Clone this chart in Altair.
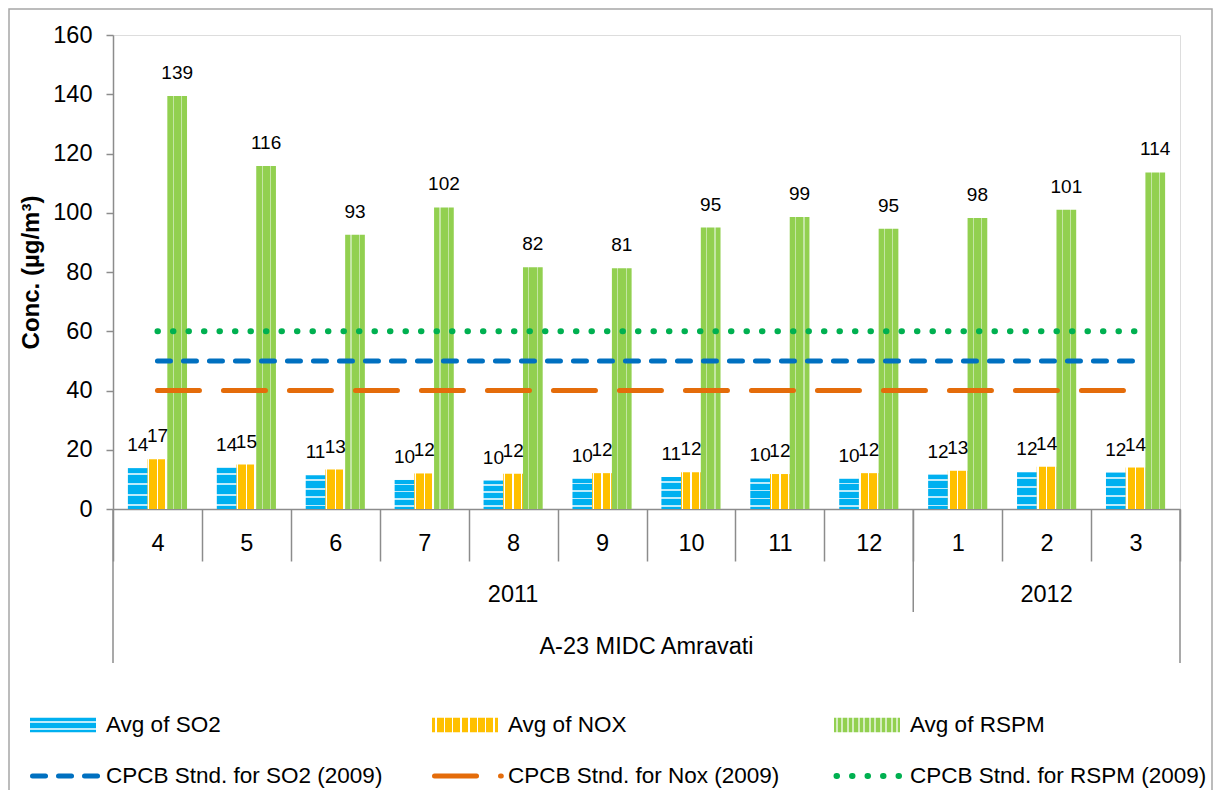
import altair as alt
import pandas as pd

# ---------------- data ----------------
months = ["4", "5", "6", "7", "8", "9", "10", "11", "12", "1", "2", "3"]
years = ["2011", "2012"]
year_anchor = ["8", "2"]          # middle month of each year group
site_name = ["A-23 MIDC Amravati"]
series = ["SO2", "NOX", "RSPM"]
bar_names = ["Avg of SO2", "Avg of NOX", "Avg of RSPM"]
so2 = [13.8, 13.9, 11.4, 9.8, 9.6, 10.2, 10.8, 10.3, 10.2, 11.6, 12.4, 12.3]
nox = [16.8, 15.0, 13.3, 12.0, 11.9, 12.1, 12.4, 11.8, 12.1, 12.9, 14.3, 14.0]
rspm = [139.4, 115.8, 92.6, 101.8, 81.6, 81.3, 95.0, 98.6, 94.6, 98.2, 101.0, 113.6]
std_names = ["CPCB Stnd. for SO2 (2009)", "CPCB Stnd. for Nox (2009)",
             "CPCB Stnd. for RSPM (2009)"]
std_values = [50, 40, 60]
y_ticks = [0, 20, 40, 60, 80, 100, 120, 140, 160]

# ---------------- styles ----------------
FONT = "Liberation Sans"
GRAY = "#8C8C8C"
BLUE_BAR = "#00B0F0"
ORANGE_BAR = "#FFC000"
GREEN_BAR = "#92D050"
LINE_COLORS = ["#0070C0", "#E46C0A", "#00B050"]
LINE_DASH = [[13, 13], [42, 24], [0.5, 15]]
LINE_WIDTH = [5, 5, 6]


def stripes(base, line, centers, hw, vertical=True):
    stops = [{"offset": 0, "color": base}]
    for c in centers:
        a = max(0.0, c - hw)
        b = min(1.0, c + hw)
        stops += [{"offset": a, "color": base}, {"offset": a, "color": line},
                  {"offset": b, "color": line}, {"offset": b, "color": base}]
    stops.append({"offset": 1, "color": base})
    if vertical:
        return {"gradient": "linear", "x1": 0, "y1": 0, "x2": 1, "y2": 0, "stops": stops}
    return {"gradient": "linear", "x1": 0, "y1": 0, "x2": 0, "y2": 1, "stops": stops}


bar_fill = {
    "SO2": stripes(BLUE_BAR, "#BDEBFB", [0.15, 0.4, 0.65, 0.9], 0.025, vertical=False),
    "NOX": stripes(ORANGE_BAR, "#FFFFFF", [0.06, 0.5, 0.94], 0.035),
    "RSPM": stripes(GREEN_BAR, "#C4E6A4", [0.3, 0.72], 0.03),
}
leg_fill = {
    "SO2": stripes(BLUE_BAR, "#BDEBFB", [0.3, 0.75], 0.06, vertical=False),
    "NOX": stripes(ORANGE_BAR, "#FFFFFF", [(i + 0.5) / 8 for i in range(8)], 0.013),
    "RSPM": stripes(GREEN_BAR, "#D4EDBE", [(i + 0.5) / 12 for i in range(12)], 0.012),
}

# ---------------- tables ----------------
bars_df = pd.DataFrame({
    "month": months * 3,
    "series": [s for s in series for _ in months],
    "value": so2 + nox + rspm,
})
std_df = pd.DataFrame({
    "month": months * 3,
    "name": [n for n in std_names for _ in months],
    "value": [v for v in std_values for _ in months],
})
year_df = pd.DataFrame({"year": years, "month": year_anchor})
site_df = pd.DataFrame({"site": site_name, "month": ["9"]})
leg_df = pd.DataFrame({
    "label": bar_names + std_names,
    "key": series + series,
    "col": [0, 1, 2, 0, 1, 2],
    "row": [0, 0, 0, 1, 1, 1],
})

W, H = 1067, 474

xscale = alt.Scale(domain=months, paddingInner=0, paddingOuter=0)
xaxis = alt.Axis(title=None, grid=False, domainColor=GRAY, domainWidth=1.5,
                 tickColor=GRAY, tickWidth=1.5, tickSize=52, tickBand="extent",
                 tickExtra=True, labelAngle=0, labelFont=FONT, labelFontSize=23.5,
                 labelColor="black", labelBaseline="middle", labelPadding=-18)
yscale = alt.Scale(domain=[0, 160], nice=False)
yaxis = alt.Axis(values=y_ticks, title="Conc. (µg/m³)", grid=False,
                 domainColor=GRAY, domainWidth=1.5, tickColor=GRAY, tickWidth=1.5,
                 tickSize=7, labelFont=FONT, labelFontSize=23.5, labelColor="black",
                 labelPadding=14, titleFont=FONT, titleFontSize=24,
                 titleFontWeight="bold", titleColor="black", titleX=-82,
                 titleY=H / 2, titleAngle=270, titleAlign="center",
                 titleBaseline="middle")


def xenc(bp=None):
    if bp is None:
        return alt.X("month:N", scale=xscale, axis=xaxis)
    return alt.X("month:N", scale=xscale, axis=xaxis, bandPosition=bp)


X = xenc()
XO = alt.XOffset("series:N", scale=alt.Scale(domain=series, paddingOuter=0.755,
                                              paddingInner=0))
Y = alt.Y("value:Q", scale=yscale, axis=yaxis)

main_layers = []
for s in series:
    main_layers.append(
        alt.Chart(bars_df).transform_filter(f"datum.series == '{s}'")
        .mark_bar(fill=bar_fill[s])
        .encode(x=X, xOffset=XO, y=Y)
    )
for n, c, d, w in zip(std_names, LINE_COLORS, LINE_DASH, LINE_WIDTH):
    main_layers.append(
        alt.Chart(std_df).transform_filter(f"datum.name == '{n}'")
        .mark_line(stroke=c, strokeWidth=w, strokeDash=d, strokeCap="round")
        .encode(x=X, y=Y)
    )
main_layers.append(
    alt.Chart(bars_df).mark_text(baseline="alphabetic", dy=-17, font=FONT,
                                 fontSize=19, color="black")
    .encode(x=X, xOffset=XO, y=Y, text=alt.Text("value:Q", format=".0f"))
)
# multi-level category axis
main_layers.append(
    alt.Chart(year_df).mark_text(font=FONT, fontSize=23.5, baseline="middle",
                                 color="black")
    .encode(x=X, y=alt.value(560), text="year:N")
)
main_layers.append(
    alt.Chart(site_df).mark_text(font=FONT, fontSize=23.5, baseline="middle",
                                 color="black")
    .encode(x=xenc(1), y=alt.value(612), text="site:N")
)
sep_specs = [("4", 0, 628), ("3", 1, 628), ("1", 0, 577)]
for m, bp, bottom in sep_specs:
    main_layers.append(
        alt.Chart(pd.DataFrame({"month": [m]}))
        .mark_rule(color=GRAY, strokeWidth=1.5)
        .encode(x=xenc(bp), y=alt.value(H), y2=alt.value(bottom))
    )
main = alt.layer(*main_layers)

# ---------------- legend ----------------
LX = alt.X("col:Q", scale=alt.Scale(domain=[0, 2], range=[-83, 721], nice=False,
                                    zero=False), axis=None)
LY = alt.Y("row:Q", scale=alt.Scale(domain=[0, 1], range=[690, 741], nice=False,
                                    zero=False), axis=None)
SW = "M0,-0.22H2V0.22H0Z"
LN = "M0.076,0H2.1"
legend_layers = []
for s in series:
    legend_layers.append(
        alt.Chart(leg_df).transform_filter(f"datum.row == 0 && datum.key == '{s}'")
        .mark_point(shape=SW, size=66 * 66, filled=True, fill=leg_fill[s],
                    opacity=1, strokeWidth=0)
        .encode(x=LX, y=LY)
    )
for s, c, d, w in zip(series, LINE_COLORS, LINE_DASH, LINE_WIDTH):
    legend_layers.append(
        alt.Chart(leg_df).transform_filter(f"datum.row == 1 && datum.key == '{s}'")
        .mark_point(shape=LN, size=66 * 66, filled=False, stroke=c, strokeWidth=w,
                    strokeDash=d, strokeCap="round", opacity=1)
        .encode(x=LX, y=LY)
    )
legend_layers.append(
    alt.Chart(leg_df).mark_text(align="left", baseline="middle", dx=76, font=FONT,
                                fontSize=22.5, color="black")
    .encode(x=LX, y=LY, text="label:N")
)
legend = alt.layer(*legend_layers)

border = alt.Chart(pd.DataFrame({"k": [0]})).mark_rect(
    fillOpacity=0, stroke="#A6A6A6", strokeWidth=1.5
).encode(x=alt.value(-104), x2=alt.value(1099), y=alt.value(-26), y2=alt.value(800))

chart = (
    alt.layer(border, main, legend)
    .resolve_scale(x="independent", y="independent")
    .properties(width=W, height=H,
                padding={"left": 105, "top": 27, "right": 33, "bottom": 281},
                autosize=alt.AutoSizeParams(type="none"))
    .configure_view(stroke=None)
    .configure(background="white")
)

chart.save("out.html", embed_options={"renderer": "svg", "actions": False})
